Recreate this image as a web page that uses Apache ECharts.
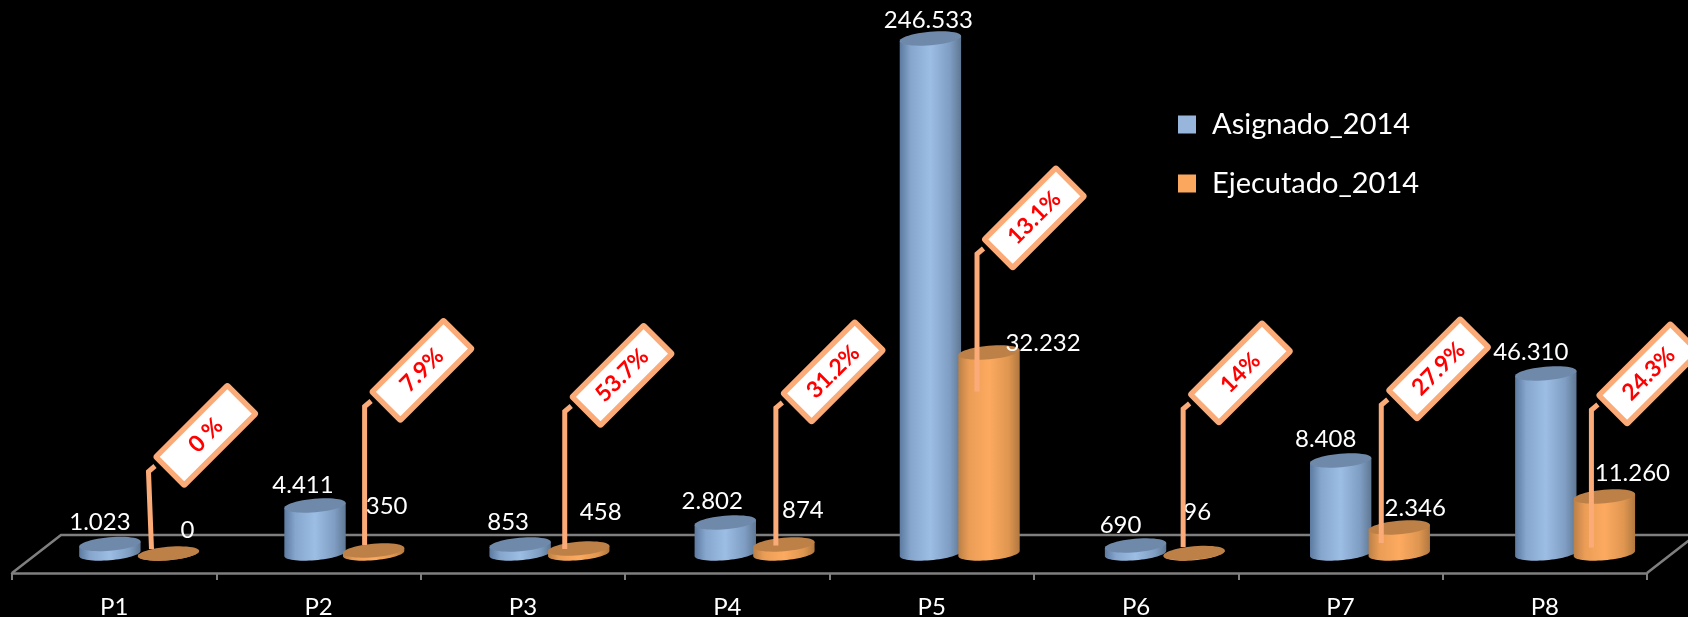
<!DOCTYPE html>
<html><head><meta charset="utf-8">
<style>html,body{margin:0;padding:0;background:#000}#c{width:1688px;height:617px}</style>
<script src="https://cdn.jsdelivr.net/npm/echarts@6/dist/echarts.min.js"></script>
</head><body><div id="c"></div>
<script>
// ---- data ----
const categories = ['P1','P2','P3','P4','P5','P6','P7','P8'];
// values printed on the labels
const asignado  = [1023, 4411, 853, 2802, 246533, 690, 8408, 46310];
const ejecutado = [0, 350, 458, 874, 32232, 96, 2346, 11260];
const porcentaje = ['0 %','7.9%','53.7%','31.2%','13.1%','14%','27.9%','24.3%'];
// heights as actually drawn in the picture (the source bars do not follow their labels), in axis units
const asignadoAltura  = [4550, 22980, 4310, 14840, 246533, 3830, 44520, 86170];
const ejecutadoAltura = [0, 1440, 2390, 4310, 96220, 240, 12450, 27290];
const axisMin = -9335, axisMax = 264960, floorBack = 8856;

// ---- layout of annotations (px) ----
const labelOffsetA = [[-10,-22],[-12,-20],[-12,-22],[-13,-21],[-2,-18],[-15,-20],[-15,-21],[-15,-21]];
const labelOffsetE = [[19,-23],[13,-44],[22,-36],[19,-34],[54,-9],[3,-41],[16,-19],[28,-23]];
const leaderDx   = [-20,-9,-14,-8,-12,-11,-18,-13];
const leaderFoot = [4.5,8.5,4.5,8,162,6.5,10.5,6];
const leaderRise = [82,147,142,145.5,299.5,144.5,148.5,143.5];
const footSkew   = [3,0,0,0,0,0,0,0];

const FONT = 'Lato, "Open Sans", sans-serif';
const GREY = '#7f7f7f', LEADER = '#fbab78';
const TILT = -5 * Math.PI / 180, RX = 30.8, RY = 6.7, HALF_GAP = 29.3;
const BLUE = {color:'#98b6dc', top:'#6f89aa', stops:[[0,'#5d7aa0'],[.18,'#86a6cd'],[.5,'#9cbde4'],[.82,'#7f9dc2'],[1,'#5f7894']]};
const ORANGE = {color:'#fba85e', top:'#bd8046', stops:[[0,'#bb8047'],[.18,'#eb9d56'],[.5,'#fdaa60'],[.82,'#df9650'],[1,'#b17840']]};

function fmt(n){ return String(n).replace(/\B(?=(\d{3})(?!\d))/g,'.'); }
function ell(cx, cy, t){
  const c = Math.cos(t)*RX, s = Math.sin(t)*RY;
  return [cx + c*Math.cos(TILT) - s*Math.sin(TILT), cy + c*Math.sin(TILT) + s*Math.cos(TILT)];
}
// perspective shift of the bars relative to the front edge of the floor
function barCenter(bandCenter){ return bandCenter + 25 + 0.0037*(bandCenter - 114); }

function cylinder(side, pal, values, offsets){
  return function(params, api){
    const i = api.value(0);
    const base = api.coord([i, 0]);
    const top = api.coord([i, api.value(1)]);
    const cx = barCenter(base[0]) + side*HALF_GAP;
    const by = base[1], ty = top[1];
    const t0 = Math.atan2(-RY*Math.sin(TILT), RX*Math.cos(TILT));
    const pts = [];
    for(let k=0;k<=32;k++) pts.push(ell(cx, by, t0 + Math.PI*k/32));
    const l = ell(cx, ty, t0+Math.PI), r = ell(cx, ty, t0);
    pts.push(l, r);
    const topPts = [];
    for(let k=0;k<48;k++) topPts.push(ell(cx, ty, 2*Math.PI*k/48));
    const off = offsets[i];
    return {type:'group', children:[
      {type:'polygon', shape:{points:pts}, style:{fill:{type:'linear',x:0,y:0,x2:1,y2:0,colorStops:pal.stops.map(s=>({offset:s[0],color:s[1]}))}}},
      {type:'polygon', shape:{points:topPts}, style:{fill:pal.top}},
      {type:'text', x:cx+off[0], y:ty+off[1], style:{text:fmt(values[i]), fill:'#fff', font:'24px '+FONT, align:'center', verticalAlign:'middle'}}
    ]};
  };
}

function floorItem(params, api){
  const band = api.size([1,0])[0];
  const xl = api.coord([0,0])[0]-band/2, xr = api.coord([7,0])[0]+band/2;
  const front = api.coord([0,axisMin])[1], back = api.coord([0,floorBack])[1];
  const depth = 49;
  return {type:'polyline', shape:{points:[[xl,front],[xl+depth,back],[xr+depth,back],[xr,front]]},
    style:{stroke:GREY, lineWidth:2.5, fill:'none'}};
}

function calloutItem(params, api){
  const i = api.value(0);
  const base = api.coord([i,0]);
  const x = barCenter(base[0]) + HALF_GAP + leaderDx[i];
  const by = base[1];
  const bendY = by - leaderRise[i];
  const footY = by - leaderFoot[i];
  const cx = x + 57.3, cy = bendY - 36.2;
  return {type:'group', children:[
    {type:'polyline', shape:{points:[[x+footSkew[i],footY],[x,bendY],[x+6.5,bendY-5.5]]},
      style:{stroke:LEADER, lineWidth:5, fill:'none', lineJoin:'miter'}},
    {type:'rect', x:cx, y:cy, rotation:Math.PI/4, shape:{x:-50.5,y:-20,width:101,height:40,r:1},
      style:{fill:'#fff', stroke:LEADER, lineWidth:5.5, lineJoin:'round'}},
    {type:'text', x:cx, y:cy, rotation:Math.PI/4, style:{text:porcentaje[i], fill:'#ff0000', font:'bold 23px '+FONT, align:'center', verticalAlign:'middle'}}
  ]};
}

const chart = echarts.init(document.getElementById('c'), null, {renderer:'canvas'});
chart.setOption({
  backgroundColor:'#000',
  animation:false,
  textStyle:{fontFamily:FONT},
  legend:{
    orient:'vertical', left:1173, top:105, itemWidth:18, itemHeight:18, itemGap:30, icon:'rect',
    data:['Asignado_2014','Ejecutado_2014'],
    selectedMode:false,
    textStyle:{color:'#fff', fontSize:29, fontFamily:FONT, padding:[0,0,0,11]}
  },
  grid:{left:12, right:41, top:0, bottom:44, outerBoundsMode:'none'},
  xAxis:{
    type:'category', data:categories, boundaryGap:true,
    axisLine:{onZero:false, lineStyle:{color:GREY, width:2.5}},
    axisTick:{show:true, alignWithLabel:false, length:7, lineStyle:{color:GREY, width:2}},
    axisLabel:{color:'#fff', fontSize:24, fontFamily:FONT, margin:22, interval:0}
  },
  yAxis:{type:'value', show:false, min:axisMin, max:axisMax, splitLine:{show:false}},
  series:[
    {type:'custom', name:'floor', z:1, silent:true, data:[[0,0]], encode:{x:0,y:1}, renderItem:floorItem},
    {type:'custom', name:'Asignado_2014', z:2, itemStyle:{color:BLUE.color},
      data:asignadoAltura.map((v,i)=>[i,v]), encode:{x:0,y:1}, renderItem:cylinder(-1,BLUE,asignado,labelOffsetA)},
    {type:'custom', name:'Ejecutado_2014', z:3, itemStyle:{color:ORANGE.color},
      data:ejecutadoAltura.map((v,i)=>[i,v]), encode:{x:0,y:1}, renderItem:cylinder(1,ORANGE,ejecutado,labelOffsetE)},
    {type:'custom', name:'callouts', z:4, silent:true,
      data:ejecutadoAltura.map((v,i)=>[i,v]), encode:{x:0,y:1}, renderItem:calloutItem}
  ]
});
</script></body></html>
